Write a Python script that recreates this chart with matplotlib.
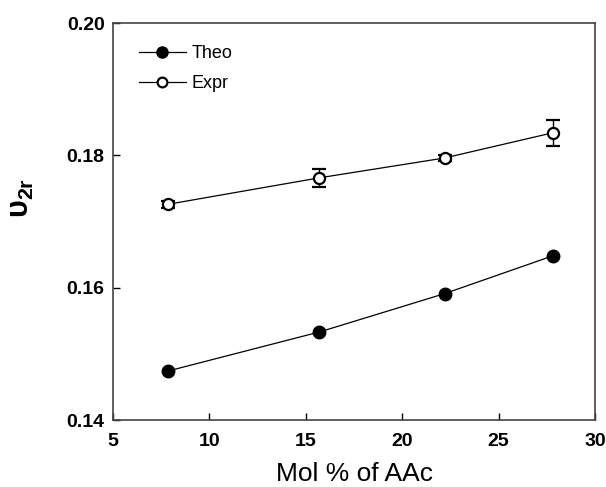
import matplotlib
matplotlib.use('Agg')
import matplotlib.pyplot as plt
from matplotlib.lines import Line2D
import numpy as np

plt.rcParams['font.family'] = ['Liberation Sans', 'DejaVu Sans']
plt.rcParams['mathtext.fontset'] = 'custom'
plt.rcParams['mathtext.rm'] = 'Liberation Sans'
plt.rcParams['mathtext.it'] = 'Liberation Sans'
plt.rcParams['mathtext.bf'] = 'Liberation Sans:bold'

mol_aac = [7.85, 15.7, 22.2, 27.8]
theo = [0.1474, 0.1533, 0.1591, 0.1648]
expr = [0.1726, 0.1766, 0.1796, 0.1834]
expr_err = [0.0005, 0.0014, 0.0005, 0.0020]

fig = plt.figure(figsize=(6.06, 4.87), dpi=100)
ax = fig.add_axes([113/606, 1 - 420/487, 482/606, 397/487])

ax.plot(mol_aac, theo, '-o', color='black', lw=0.9, ms=9,
        mfc='black', mec='black')
ax.errorbar(mol_aac, expr, yerr=expr_err, fmt='-o', color='black', lw=0.9,
            ms=8, mfc='white', mec='black', mew=1.6, capsize=5,
            elinewidth=1.0, capthick=1.2)

ax.set_xlim(5, 30)
ax.set_ylim(0.14, 0.20)
ax.set_xticks([5, 10, 15, 20, 25, 30])
ax.set_yticks([0.14, 0.16, 0.18, 0.20])
ax.set_yticklabels(['0.14', '0.16', '0.18', '0.20'])
ax.tick_params(direction='in', length=5, width=1, labelsize=14, pad=6)
ax.tick_params(axis='x', pad=9)
for lab in ax.get_xticklabels() + ax.get_yticklabels():
    lab.set_fontweight('bold')
for s in ax.spines.values():
    s.set_linewidth(1.2)
    s.set_color('#444444')

ax.set_xlabel('Mol % of AAc', fontsize=19, labelpad=9)
ax.set_ylabel(r'$\mathbf{\upsilon_{2r}}$', fontsize=22)
ax.yaxis.set_label_coords(-0.16, 0.56)

handles = [
    Line2D([], [], color='black', lw=0.9, marker='o', ms=8, mfc='black', mec='black'),
    Line2D([], [], color='black', lw=0.9, marker='o', ms=7, mfc='white', mec='black', mew=1.6),
]
ax.legend(handles, ['Theo', 'Expr'], loc='upper left', frameon=False,
          fontsize=13, handlelength=2.6, handletextpad=0.3,
          bbox_to_anchor=(0.02, 0.985), labelspacing=0.7)

fig.savefig('out.png', dpi=100)
